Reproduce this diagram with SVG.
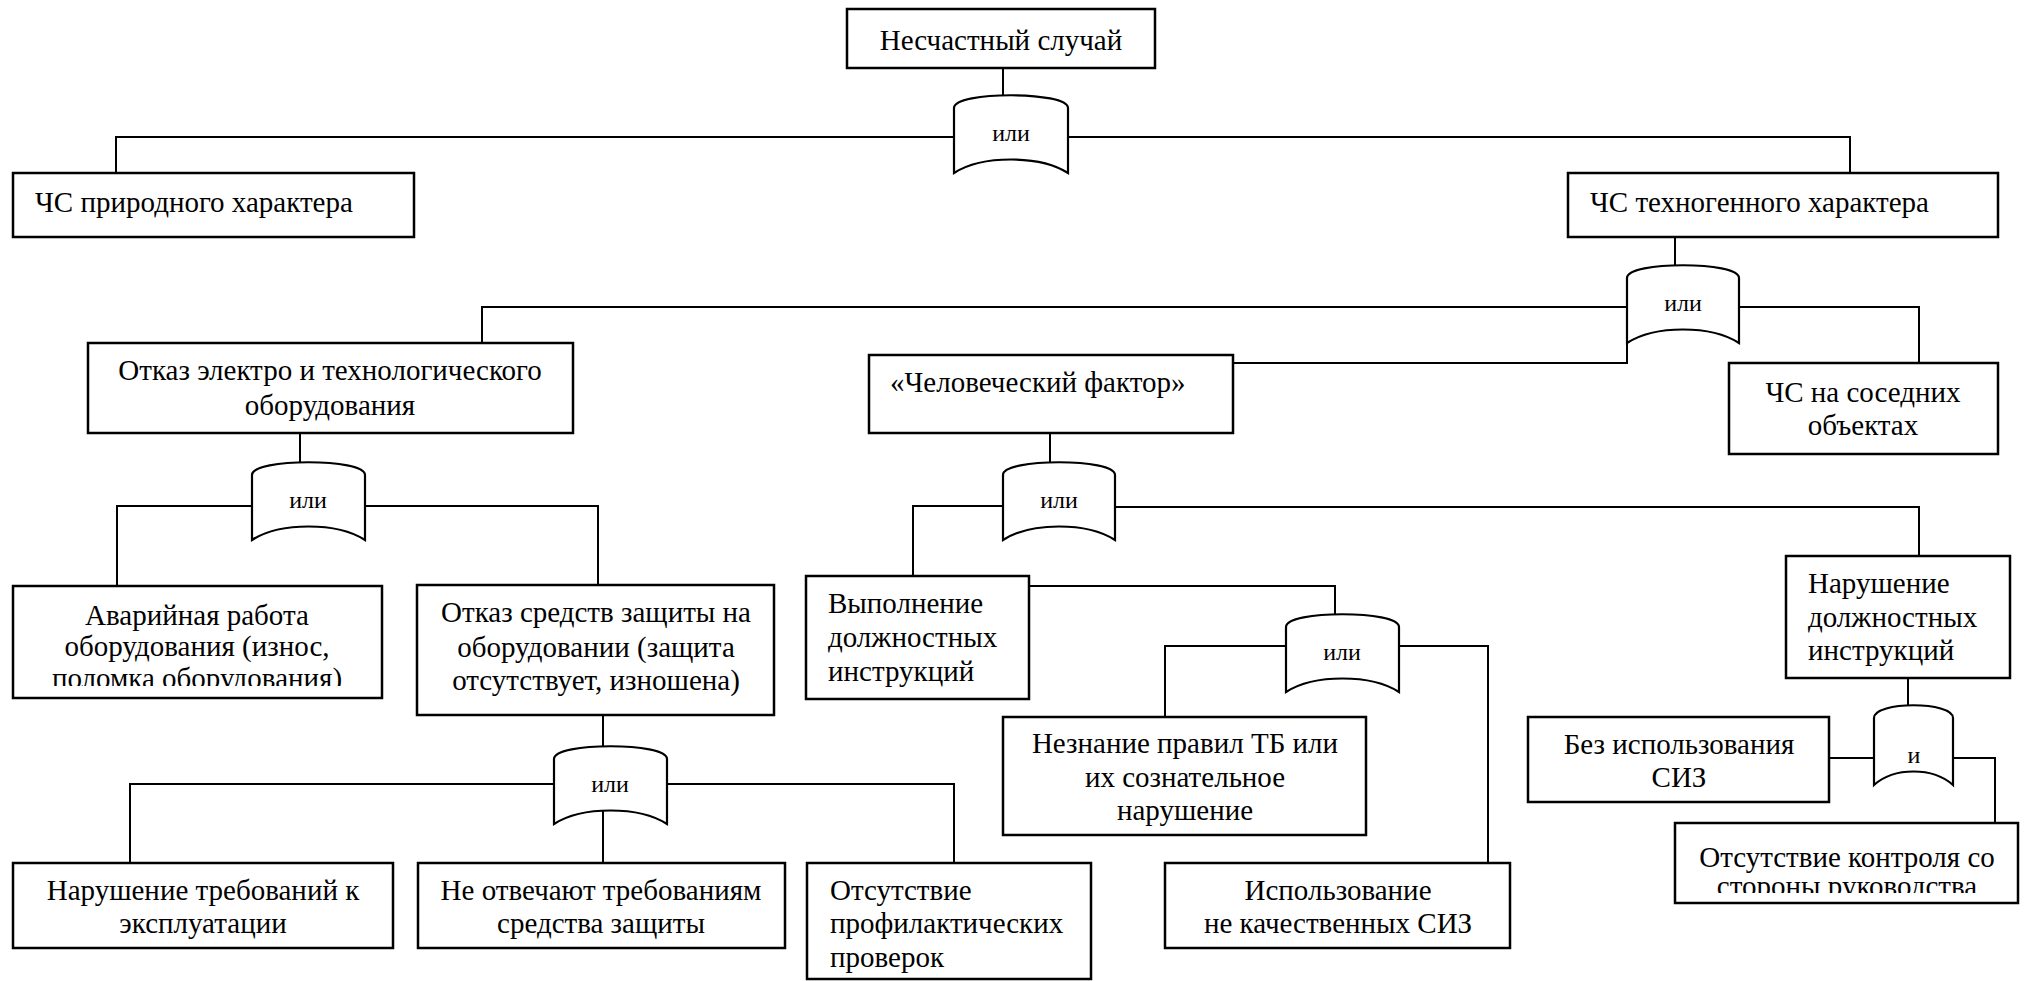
<svg xmlns="http://www.w3.org/2000/svg" width="2026" height="981" viewBox="0 0 2026 981">
<style>
.box{fill:#fff;stroke:#000;stroke-width:2.5}
.gate{fill:#fff;stroke:#000;stroke-width:2.2}
.ln{fill:none;stroke:#000;stroke-width:2}
.t text{font-size:29px;fill:#000}
.c{text-anchor:middle}
.t .g{font-size:24px;text-anchor:middle}
</style>
<defs>
<clipPath id="clipAv"><rect x="13" y="586" width="369" height="100"/></clipPath>
<clipPath id="clipOk"><rect x="1675" y="823" width="343" height="70"/></clipPath>
</defs>
<g id="connectors">
<polyline class="ln" points="1003,67 1003,95"/>
<polyline class="ln" points="954,137 116,137 116,173"/>
<polyline class="ln" points="1068,137 1850,137 1850,173"/>
<polyline class="ln" points="1675,237 1675,265"/>
<polyline class="ln" points="1627,307 482,307 482,343"/>
<polyline class="ln" points="1233,363 1627,363 1627,343"/>
<polyline class="ln" points="1739,307 1919,307 1919,363"/>
<polyline class="ln" points="300,433 300,462"/>
<polyline class="ln" points="252,506 117,506 117,585"/>
<polyline class="ln" points="365,506 598,506 598,585"/>
<polyline class="ln" points="603,716 603,746"/>
<polyline class="ln" points="554,784 130,784 130,863"/>
<polyline class="ln" points="667,784 954,784 954,863"/>
<polyline class="ln" points="603,810 603,863"/>
<polyline class="ln" points="1050,433 1050,462"/>
<polyline class="ln" points="1003,506 913,506 913,576"/>
<polyline class="ln" points="1115,507 1919,507 1919,556"/>
<polyline class="ln" points="1029,586 1335,586 1335,614"/>
<polyline class="ln" points="1286,646 1165,646 1165,717"/>
<polyline class="ln" points="1399,646 1488,646 1488,863"/>
<polyline class="ln" points="1908,678 1908,705"/>
<polyline class="ln" points="1874,758 1829,758"/>
<polyline class="ln" points="1953,758 1995,758 1995,823"/>
</g>
<g class="t" font-family="'Times New Roman', Tinos, 'Liberation Serif', 'DejaVu Serif', serif">
<g id="gate1"><path class="gate" d="M954,173 L954,108 C954,91 1068,91 1068,108 L1068,173 C1040,155 982,155 954,173 Z"/><text class="g" x="1011" y="141">или</text></g>
<g id="gate2"><path class="gate" d="M1627,343 L1627,278 C1627,261 1739,261 1739,278 L1739,343 C1711,325 1655,325 1627,343 Z"/><text class="g" x="1683" y="311">или</text></g>
<g id="gate3"><path class="gate" d="M252,540 L252,475 C252,458 365,458 365,475 L365,540 C337,522 280,522 252,540 Z"/><text class="g" x="308" y="508">или</text></g>
<g id="gate4"><path class="gate" d="M554,824 L554,759 C554,742 667,742 667,759 L667,824 C639,806 582,806 554,824 Z"/><text class="g" x="610" y="792">или</text></g>
<g id="gate5"><path class="gate" d="M1003,540 L1003,475 C1003,458 1115,458 1115,475 L1115,540 C1087,522 1031,522 1003,540 Z"/><text class="g" x="1059" y="508">или</text></g>
<g id="gate6"><path class="gate" d="M1286,692 L1286,627 C1286,610 1399,610 1399,627 L1399,692 C1371,674 1314,674 1286,692 Z"/><text class="g" x="1342" y="660">или</text></g>
<g id="gate7"><path class="gate" d="M1874,785 L1874,718 C1874,701 1953,701 1953,718 L1953,785 C1933,767 1894,767 1874,785 Z"/><text class="g" x="1914" y="763">и</text></g>
<g id="n1"><rect class="box" x="847" y="9" width="308" height="59"/><text class="c" x="1001" y="50">Несчастный случай</text></g>
<g id="n2"><rect class="box" x="13" y="173" width="401" height="64"/><text x="35" y="212">ЧС природного характера</text></g>
<g id="n3"><rect class="box" x="1568" y="173" width="430" height="64"/><text x="1590" y="212">ЧС техногенного характера</text></g>
<g id="n4"><rect class="box" x="88" y="343" width="485" height="90"/><text class="c" x="330" y="380">Отказ электро и технологического</text><text class="c" x="330" y="415">оборудования</text></g>
<g id="n5"><rect class="box" x="869" y="355" width="364" height="78"/><text x="890" y="392">«Человеческий фактор»</text></g>
<g id="n6"><rect class="box" x="1729" y="363" width="269" height="91"/><text class="c" x="1863" y="402">ЧС на соседних</text><text class="c" x="1863" y="435">объектах</text></g>
<g id="n7"><rect class="box" x="13" y="586" width="369" height="112"/><g clip-path="url(#clipAv)"><text class="c" x="197" y="625">Аварийная работа</text><text class="c" x="197" y="656">оборудования (износ,</text><text class="c" x="197" y="688">поломка оборудования)</text></g></g>
<g id="n8"><rect class="box" x="417" y="585" width="357" height="130"/><text class="c" x="596" y="622">Отказ средств защиты на</text><text class="c" x="596" y="657">оборудовании (защита</text><text class="c" x="596" y="690">отсутствует, изношена)</text></g>
<g id="n9"><rect class="box" x="806" y="576" width="223" height="123"/><text x="828" y="613">Выполнение</text><text x="828" y="647">должностных</text><text x="828" y="681">инструкций</text></g>
<g id="n10"><rect class="box" x="1786" y="556" width="224" height="122"/><text x="1808" y="593">Нарушение</text><text x="1808" y="627">должностных</text><text x="1808" y="660">инструкций</text></g>
<g id="n11"><rect class="box" x="1003" y="717" width="363" height="118"/><text class="c" x="1185" y="753">Незнание правил ТБ или</text><text class="c" x="1185" y="787">их сознательное</text><text class="c" x="1185" y="820">нарушение</text></g>
<g id="n12"><rect class="box" x="1528" y="717" width="301" height="85"/><text class="c" x="1679" y="754">Без использования</text><text class="c" x="1679" y="787">СИЗ</text></g>
<g id="n13"><rect class="box" x="1675" y="823" width="343" height="80"/><g clip-path="url(#clipOk)"><text class="c" x="1847" y="867">Отсутствие контроля со</text><text class="c" x="1847" y="896">стороны руководства</text></g></g>
<g id="n14"><rect class="box" x="13" y="863" width="380" height="85"/><text class="c" x="203" y="900">Нарушение требований к</text><text class="c" x="203" y="933">эксплуатации</text></g>
<g id="n15"><rect class="box" x="418" y="863" width="367" height="85"/><text class="c" x="601" y="900">Не отвечают требованиям</text><text class="c" x="601" y="933">средства защиты</text></g>
<g id="n16"><rect class="box" x="807" y="863" width="284" height="116"/><text x="830" y="900">Отсутствие</text><text x="830" y="933">профилактических</text><text x="830" y="967">проверок</text></g>
<g id="n17"><rect class="box" x="1165" y="863" width="345" height="85"/><text class="c" x="1338" y="900">Использование</text><text class="c" x="1338" y="933">не качественных СИЗ</text></g>
</g>
</svg>
